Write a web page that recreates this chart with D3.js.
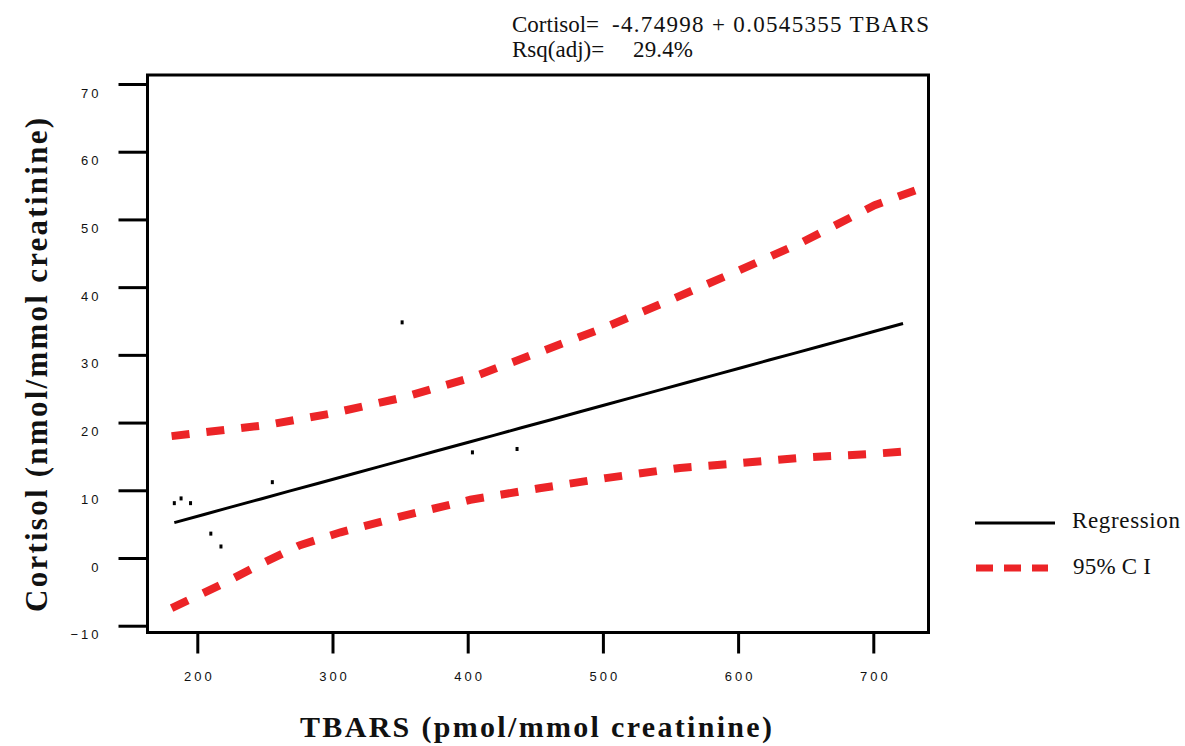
<!DOCTYPE html>
<html>
<head>
<meta charset="utf-8">
<script src="https://cdn.jsdelivr.net/npm/d3@7/dist/d3.min.js"></script>
<style>
  body { margin: 0; background: #fff; }
  .tick text { font-family: "Liberation Sans", Arial, sans-serif; font-size: 13px; letter-spacing: 3px; fill: #111; }
  .serif { font-family: "Liberation Serif", "Times New Roman", serif; fill: #111; }
</style>
</head>
<body>
<div id="chart"></div>
<script>
// observed points (TBARS, Cortisol)
var pointTbars = [183, 188, 195, 210, 217.5, 255.5, 351.5, 403.5, 436.5];
var pointCortisol = [8.1, 8.8, 8.1, 3.6, 1.7, 11.2, 34.8, 15.6, 16.1];

// fitted line vertices
var fitTbars = [183, 205, 222, 247, 268, 289, 314, 334, 357, 376, 402, 420, 439, 461, 483, 502, 522, 543, 565, 585, 603, 623, 642, 662, 684, 699, 722];
var fitCortisol = [5.23, 6.43, 7.36, 8.72, 9.87, 11.01, 12.37, 13.46, 14.72, 15.76, 17.17, 18.15, 19.19, 20.39, 21.59, 22.63, 23.72, 24.86, 26.06, 27.15, 28.13, 29.23, 30.26, 31.35, 32.55, 33.37, 34.63];

// 95% CI bands
var upperTbars = [181, 250, 298, 350, 402, 453, 502, 550, 601, 646, 701, 738];
var upperCortisol = [18.0, 19.6, 21.3, 23.6, 26.6, 30.4, 34.1, 38.1, 42.5, 46.5, 52.1, 54.8];
var lowerTbars = [181, 217, 246, 276, 306, 350, 402, 453, 502, 557, 601, 646, 701, 722];
var lowerCortisol = [-7.4, -4.0, -1.0, 1.9, 3.8, 6.1, 8.6, 10.3, 11.8, 13.3, 14.0, 14.8, 15.4, 15.7];

var xTicks = [200, 300, 400, 500, 600, 700];
var yTicks = [-10, 0, 10, 20, 30, 40, 50, 60, 70];

var width = 1185, height = 746;
var frame = {left: 147.5, right: 928.5, top: 75, bottom: 632.5};

var svg = d3.select("#chart")
            .append("svg")
            .attr("width", width)
            .attr("height", height);

var x = d3.scaleLinear()
          .domain([200, 700])
          .range([197.3, 873.3]);

var y = d3.scaleLinear()
          .domain([0, 70])
          .range([558, 84]);

// frame
svg.append("rect")
   .attr("x", frame.left).attr("y", frame.top)
   .attr("width", frame.right - frame.left)
   .attr("height", frame.bottom - frame.top)
   .attr("fill", "none")
   .attr("stroke", "#000")
   .attr("stroke-width", 3);

// Y axis
var yAxis = svg.append("g")
   .attr("transform", "translate(" + frame.left + ",0)")
   .call(d3.axisLeft(y).tickValues(yTicks).tickSize(29).tickPadding(20).tickFormat(d3.format("d")));
yAxis.select(".domain").remove();
yAxis.selectAll(".tick line").attr("stroke", "#000").attr("stroke-width", 3);
yAxis.selectAll(".tick text").attr("dy", "1em").attr("x", -46);

// X axis
var xAxis = svg.append("g")
   .attr("transform", "translate(0," + frame.bottom + ")")
   .call(d3.axisBottom(x).tickValues(xTicks).tickSize(21).tickPadding(18).tickFormat(d3.format("d")));
xAxis.select(".domain").remove();
xAxis.selectAll(".tick line").attr("stroke", "#000").attr("stroke-width", 3);
xAxis.selectAll(".tick text").attr("dx", "1.5px");

// axis titles
svg.append("text")
   .attr("class", "serif")
   .attr("transform", "translate(47,365) rotate(-90)")
   .attr("text-anchor", "middle")
   .attr("textLength", 494)
   .attr("lengthAdjust", "spacing")
   .style("font-size", "31px")
   .style("font-weight", "bold")
   .text("Cortisol (nmol/mmol creatinine)");

svg.append("text")
   .attr("class", "serif")
   .attr("x", 536).attr("y", 737)
   .attr("text-anchor", "middle")
   .attr("textLength", 472)
   .attr("lengthAdjust", "spacing")
   .style("font-size", "30px")
   .style("font-weight", "bold")
   .text("TBARS (pmol/mmol creatinine)");

// lines
var line = d3.line()
   .x(function(d) { return x(d[0]); })
   .y(function(d) { return y(d[1]); });

svg.append("path")
   .datum(d3.zip(upperTbars, upperCortisol))
   .attr("d", line)
   .attr("fill", "none")
   .attr("stroke", "#ec2427")
   .attr("stroke-width", 8)
   .attr("stroke-dasharray", "18,17");

svg.append("path")
   .datum(d3.zip(lowerTbars, lowerCortisol))
   .attr("d", line)
   .attr("fill", "none")
   .attr("stroke", "#ec2427")
   .attr("stroke-width", 8)
   .attr("stroke-dasharray", "18,17");

svg.append("path")
   .datum(d3.zip(fitTbars, fitCortisol))
   .attr("d", line)
   .attr("fill", "none")
   .attr("stroke", "#000")
   .attr("stroke-width", 3);

// points
svg.append("g")
   .selectAll("rect")
   .data(d3.zip(pointTbars, pointCortisol))
   .enter()
   .append("rect")
     .attr("x", function(d) { return x(d[0]) - 1.5; })
     .attr("y", function(d) { return y(d[1]) - 2; })
     .attr("width", 3)
     .attr("height", 4)
     .attr("fill", "#000");

// equation + legend text
function label(xp, yp, txt, len) {
  var t = svg.append("text")
     .attr("class", "serif")
     .attr("x", xp).attr("y", yp)
     .style("font-size", "23px")
     .text(txt);
  if (len) t.attr("textLength", len).attr("lengthAdjust", "spacing");
}
label(512, 32, "Cortisol=");
label(612, 32, "-4.74998 + 0.0545355 TBARS", 317);
label(512, 57, "Rsq(adj)=");
label(633, 57, "29.4%", 60);

// legend
svg.append("line")
   .attr("x1", 975).attr("x2", 1055).attr("y1", 523).attr("y2", 523)
   .attr("stroke", "#000").attr("stroke-width", 3);
svg.append("line")
   .attr("x1", 976).attr("x2", 1048).attr("y1", 568).attr("y2", 568)
   .attr("stroke", "#ec2427").attr("stroke-width", 7)
   .attr("stroke-dasharray", "17,11");
label(1072, 528, "Regression", 108);
label(1073, 574, "95% C I", 78);
</script>
</body>
</html>
